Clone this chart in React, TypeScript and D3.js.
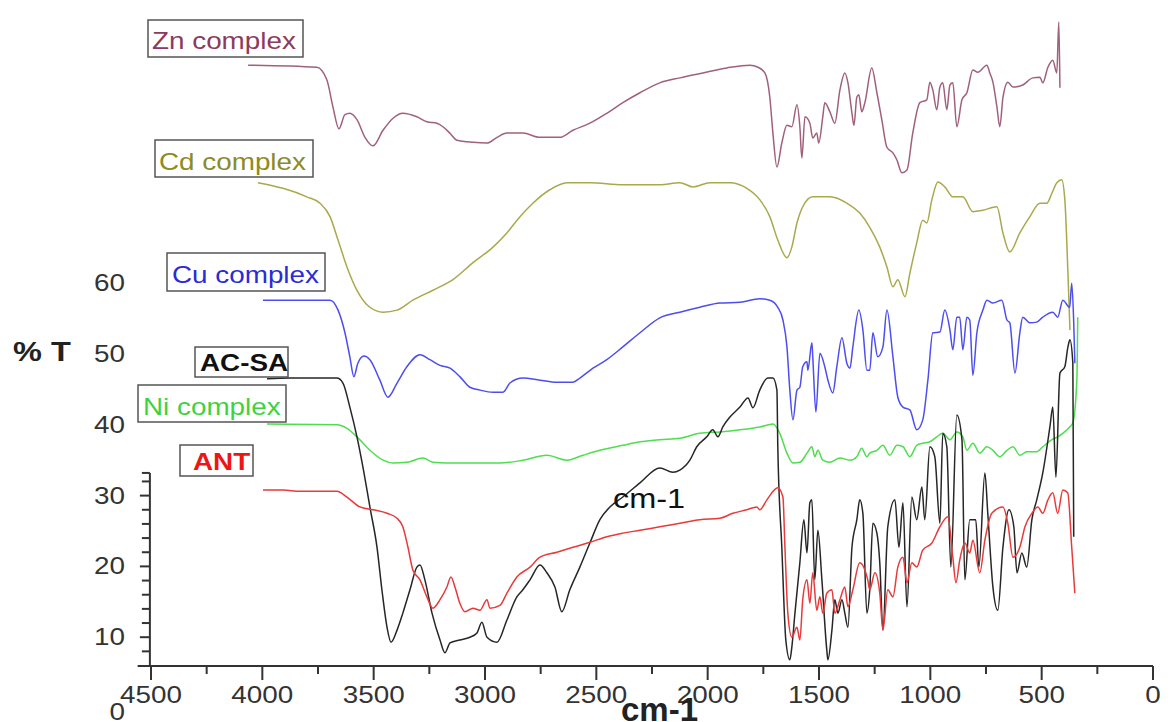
import { useEffect, useRef } from "react";
import * as d3 from "d3";

// [wavenumber cm-1, %T] (curves are stacked with offsets)
const znComplex: [number, number][] = [
  [4064, 90.8], [3755, 90.5], [3710, 88.7], [3683, 84.9], [3656, 81.8], [3629, 83.8], [3607, 84.0], [3575, 83.1],
  [3539, 80.6], [3503, 79.4], [3458, 81.6], [3413, 83.3], [3369, 84.0], [3306, 83.5], [3261, 82.8], [3216, 82.6],
  [3189, 82.1], [3158, 81.2], [3126, 80.2], [3054, 79.9], [2991, 79.8], [2946, 80.6], [2902, 81.2], [2830, 81.2],
  [2753, 80.6], [2664, 80.6], [2605, 81.6], [2529, 82.6], [2453, 84.0], [2381, 85.5], [2304, 86.9], [2215, 88.3],
  [2125, 89.0], [2021, 89.7], [1914, 90.4], [1810, 90.8], [1774, 90.5], [1743, 89.7], [1721, 86.3], [1707, 81.2],
  [1689, 76.4], [1667, 79.8], [1644, 82.3], [1622, 82.1], [1599, 85.2], [1586, 82.1], [1577, 77.7], [1563, 83.5],
  [1541, 82.6], [1528, 80.5], [1510, 81.2], [1501, 79.8], [1483, 83.5], [1474, 85.5], [1451, 84.2], [1429, 82.6],
  [1406, 87.3], [1384, 89.7], [1370, 88.3], [1352, 84.0], [1343, 82.3], [1330, 86.3], [1321, 86.6], [1308, 84.2],
  [1294, 85.5], [1263, 90.4], [1240, 86.9], [1218, 83.1], [1195, 79.2], [1168, 78.4], [1150, 77.4], [1128, 75.6],
  [1105, 76.0], [1079, 81.2], [1047, 85.5], [1016, 85.9], [1002, 88.4], [989, 87.3], [971, 84.5], [957, 87.7],
  [944, 88.3], [926, 84.5], [912, 88.0], [899, 88.3], [881, 82.1], [858, 85.9], [836, 86.9], [809, 90.1],
  [787, 89.8], [746, 90.8], [733, 89.7], [719, 88.4], [701, 84.9], [688, 82.1], [674, 86.2], [652, 88.4],
  [629, 87.7], [585, 88.0], [540, 89.0], [508, 89.1], [495, 88.3], [472, 90.5], [450, 91.5], [432, 89.7],
  [423, 96.9], [418, 87.6],
];

const cdComplex: [number, number][] = [
  [4020, 74.2], [3907, 73.4], [3800, 72.2], [3741, 71.3], [3696, 69.4], [3660, 66.1], [3620, 62.3], [3575, 59.0],
  [3517, 56.6], [3458, 55.9], [3395, 56.2], [3324, 57.6], [3234, 59.0], [3144, 60.5], [3054, 62.9], [2964, 65.1],
  [2902, 67.1], [2843, 69.4], [2785, 71.3], [2709, 73.2], [2632, 74.2], [2529, 74.2], [2381, 73.9], [2215, 73.9],
  [2125, 74.2], [2066, 73.6], [1990, 74.2], [1900, 74.2], [1824, 73.4], [1766, 71.8], [1721, 69.4], [1685, 66.1],
  [1644, 63.6], [1622, 65.1], [1599, 68.5], [1573, 70.8], [1528, 72.2], [1451, 72.2], [1375, 71.3], [1317, 69.9],
  [1272, 67.9], [1227, 65.1], [1195, 62.3], [1168, 59.5], [1146, 60.5], [1114, 58.1], [1092, 61.4], [1061, 65.7],
  [1034, 68.9], [1016, 68.5], [993, 71.8], [966, 74.3], [935, 73.6], [899, 72.2], [854, 72.2], [809, 70.1],
  [764, 70.3], [701, 70.8], [674, 67.1], [643, 64.4], [598, 67.1], [553, 69.4], [508, 71.3], [477, 71.3],
  [454, 72.7], [432, 74.2], [410, 74.6], [396, 71.8], [382, 61.4], [373, 53.4],
];

const cuComplex: [number, number][] = [
  [3997, 57.6], [3696, 57.6], [3660, 56.2], [3629, 53.0], [3607, 49.6], [3589, 46.8], [3571, 48.7], [3544, 49.7],
  [3517, 49.2], [3472, 46.3], [3436, 43.9], [3395, 45.9], [3351, 48.2], [3292, 49.9], [3247, 49.2], [3202, 48.4],
  [3157, 48.0], [3113, 46.8], [3068, 45.3], [3023, 44.9], [2964, 44.6], [2919, 44.6], [2888, 45.9], [2830, 46.6],
  [2753, 46.3], [2677, 46.0], [2605, 46.0], [2574, 46.6], [2515, 48.0], [2453, 49.2], [2381, 51.0], [2304, 53.0],
  [2215, 55.1], [2125, 55.9], [2035, 56.6], [1945, 57.2], [1855, 57.3], [1766, 57.8], [1721, 57.6], [1685, 56.6],
  [1662, 54.8], [1644, 51.0], [1631, 44.9], [1617, 40.7], [1599, 44.9], [1586, 45.3], [1573, 48.2], [1554, 48.9],
  [1550, 47.7], [1532, 51.6], [1528, 49.6], [1514, 41.8], [1496, 50.1], [1474, 48.2], [1460, 46.3], [1438, 44.5],
  [1420, 48.2], [1397, 52.3], [1375, 48.7], [1361, 48.0], [1348, 51.0], [1321, 56.2], [1303, 53.4], [1285, 47.7],
  [1272, 47.7], [1258, 53.0], [1236, 49.6], [1213, 51.0], [1195, 56.2], [1168, 49.6], [1146, 43.9], [1123, 42.5],
  [1092, 42.1], [1061, 39.3], [1034, 40.7], [1011, 46.3], [989, 53.0], [957, 53.1], [935, 56.2], [912, 53.4],
  [899, 50.6], [881, 55.2], [868, 55.2], [854, 50.6], [836, 55.2], [823, 54.8], [809, 47.0], [791, 53.0],
  [764, 56.2], [746, 57.6], [719, 57.2], [679, 57.6], [656, 54.8], [643, 54.4], [620, 47.3], [598, 53.0],
  [585, 55.2], [553, 54.4], [522, 54.5], [495, 55.2], [450, 55.9], [428, 55.2], [405, 57.6], [374, 56.6],
  [365, 60.0], [356, 54.4], [351, 48.7],
];

const acSa: [number, number][] = [
  [3979, 46.5], [3876, 46.6], [3665, 46.6], [3638, 45.9], [3607, 42.5], [3575, 38.3], [3548, 34.0], [3517, 28.4],
  [3485, 22.7], [3463, 16.7], [3440, 11.4], [3422, 9.3], [3395, 11.0], [3369, 13.4], [3337, 16.7], [3306, 19.9],
  [3292, 20.2], [3270, 18.1], [3238, 13.4], [3202, 9.6], [3180, 7.8], [3157, 9.2], [3113, 9.6], [3068, 10.0],
  [3036, 10.6], [3014, 12.1], [2991, 10.0], [2946, 9.3], [2902, 12.4], [2857, 15.7], [2830, 16.7], [2798, 18.1],
  [2753, 20.2], [2722, 19.1], [2686, 17.1], [2655, 13.6], [2619, 16.7], [2574, 19.9], [2529, 23.3], [2484, 26.6],
  [2439, 28.4], [2381, 29.8], [2304, 31.8], [2215, 33.9], [2156, 33.3], [2125, 33.6], [2080, 35.0], [2049, 36.9],
  [2004, 38.3], [1977, 39.3], [1954, 38.3], [1932, 39.7], [1900, 41.1], [1855, 42.5], [1819, 43.8], [1797, 42.4],
  [1766, 44.9], [1730, 46.6], [1707, 46.6], [1689, 44.9], [1685, 36.9], [1667, 22.7], [1649, 9.6], [1631, 6.8],
  [1622, 8.6], [1608, 13.4], [1586, 20.5], [1568, 26.6], [1554, 21.9], [1541, 29.0], [1532, 29.4], [1519, 18.1],
  [1505, 25.1], [1487, 18.1], [1465, 8.2], [1460, 6.8], [1442, 11.0], [1429, 15.3], [1415, 13.4], [1397, 15.3],
  [1384, 13.4], [1370, 11.4], [1352, 22.7], [1330, 26.6], [1317, 29.4], [1303, 27.5], [1285, 13.4], [1272, 16.7],
  [1258, 26.1], [1240, 24.7], [1227, 20.5], [1213, 11.0], [1191, 25.6], [1159, 29.4], [1141, 22.7], [1123, 29.0],
  [1105, 14.3], [1083, 29.8], [1061, 26.6], [1038, 31.2], [1025, 26.6], [1002, 36.9], [980, 35.5], [957, 26.1],
  [944, 38.8], [926, 36.9], [908, 19.9], [881, 41.4], [858, 37.9], [845, 18.1], [823, 26.6], [796, 26.6],
  [782, 19.9], [755, 33.2], [742, 27.5], [719, 17.1], [697, 13.8], [674, 22.7], [647, 28.0], [625, 25.6],
  [611, 19.1], [589, 21.9], [567, 19.9], [544, 26.6], [522, 29.4], [495, 33.2], [463, 39.7], [450, 42.5],
  [436, 32.6], [418, 47.3], [396, 48.2], [382, 51.0], [373, 52.0], [360, 48.7], [356, 24.2],
];

const niComplex: [number, number][] = [
  [3979, 40.1], [3665, 40.0], [3620, 39.5], [3575, 38.3], [3517, 36.4], [3458, 35.0], [3413, 34.6], [3351, 34.7],
  [3279, 35.3], [3234, 34.7], [3171, 34.6], [3054, 34.6], [2933, 34.6], [2830, 35.0], [2722, 35.7], [2632, 35.0],
  [2560, 35.7], [2484, 36.4], [2381, 37.1], [2304, 37.6], [2215, 37.9], [2125, 38.1], [2035, 38.8], [1945, 39.0],
  [1855, 39.3], [1766, 39.7], [1707, 40.1], [1676, 38.8], [1644, 36.0], [1617, 34.6], [1586, 34.7], [1554, 36.0],
  [1532, 36.9], [1519, 35.5], [1505, 36.4], [1483, 35.0], [1451, 34.7], [1406, 35.3], [1361, 35.0], [1330, 35.5],
  [1308, 36.7], [1285, 35.5], [1272, 36.0], [1240, 36.4], [1213, 37.1], [1182, 35.7], [1150, 37.1], [1123, 36.9],
  [1092, 35.5], [1061, 37.1], [1034, 37.4], [1002, 37.6], [971, 38.3], [944, 38.8], [912, 37.9], [881, 39.0],
  [854, 38.3], [836, 36.4], [809, 37.4], [778, 36.0], [746, 36.9], [719, 36.4], [688, 35.5], [656, 36.4],
  [629, 36.9], [598, 35.7], [567, 36.2], [522, 36.2], [495, 36.9], [454, 37.9], [428, 38.3], [405, 38.8],
  [374, 39.7], [360, 40.3], [342, 46.3], [338, 55.2],
];

const ant: [number, number][] = [
  [3997, 30.8], [3907, 30.8], [3831, 30.6], [3665, 30.6], [3620, 29.8], [3562, 28.4], [3503, 28.0], [3440, 27.5],
  [3395, 26.8], [3369, 25.6], [3346, 22.7], [3324, 19.5], [3292, 18.1], [3261, 15.7], [3234, 14.1], [3202, 15.3],
  [3171, 17.1], [3153, 18.5], [3135, 17.1], [3113, 14.8], [3090, 13.6], [3054, 14.1], [3023, 13.8], [2991, 15.3],
  [2978, 14.1], [2933, 14.5], [2902, 16.2], [2857, 18.5], [2798, 19.9], [2753, 21.3], [2677, 22.0], [2605, 22.7],
  [2529, 23.4], [2453, 24.2], [2381, 24.7], [2304, 25.1], [2215, 25.6], [2125, 26.1], [2035, 26.6], [1945, 26.8],
  [1887, 27.5], [1824, 28.0], [1779, 28.4], [1766, 28.0], [1734, 29.4], [1685, 31.1], [1662, 29.8], [1653, 22.7],
  [1640, 13.4], [1622, 10.0], [1599, 11.4], [1586, 9.6], [1573, 15.3], [1554, 18.1], [1541, 14.8], [1528, 19.1],
  [1510, 13.8], [1496, 15.7], [1483, 13.4], [1465, 16.2], [1442, 16.7], [1429, 13.4], [1406, 15.3], [1384, 17.1],
  [1370, 14.3], [1348, 16.7], [1317, 20.5], [1294, 19.5], [1281, 18.1], [1272, 16.7], [1249, 19.1], [1227, 16.2],
  [1213, 11.0], [1191, 16.7], [1168, 15.7], [1146, 19.9], [1123, 21.3], [1105, 17.7], [1083, 20.5], [1061, 19.9],
  [1034, 22.3], [993, 23.3], [957, 25.6], [921, 27.0], [899, 21.3], [885, 17.7], [868, 20.9], [845, 23.3],
  [823, 21.9], [809, 23.7], [778, 19.1], [755, 23.7], [724, 27.5], [674, 28.4], [652, 26.1], [629, 21.3],
  [598, 22.7], [575, 25.6], [544, 27.5], [517, 28.4], [495, 27.5], [472, 29.4], [450, 30.4], [428, 27.5],
  [405, 30.8], [383, 30.4], [365, 22.7], [351, 16.2],
];

const xTickValues = [4500, 4000, 3500, 3000, 2500, 2000, 1500, 1000, 500, 0];
const xMinorTicks = [4250, 3750, 3250, 2750, 2250, 1750, 1250, 750, 250];
const yTickLabels = [0, 10, 20, 30, 40, 50, 60];
const yAxisTicks = [8, 10, 12, 14, 16, 18, 20, 22, 24, 26, 28, 30, 32];

const SERIES = [
  { name: "Zn complex", data: znComplex, stroke: "#a0607c", text: "#8c3a5e", bold: false },
  { name: "Cd complex", data: cdComplex, stroke: "#a9a94c", text: "#8c8c22", bold: false },
  { name: "Cu complex", data: cuComplex, stroke: "#4d4df0", text: "#2b2bd6", bold: false },
  { name: "Ni complex", data: niComplex, stroke: "#4ede4e", text: "#3fd23f", bold: false },
  { name: "AC-SA", data: acSa, stroke: "#262626", text: "#111111", bold: true },
  { name: "ANT", data: ant, stroke: "#e83a3a", text: "#ee1515", bold: true },
];

const App = () => {
  const ref = useRef<SVGSVGElement>(null);

  useEffect(() => {
    const FONT = "'Liberation Sans', Arial, Helvetica, sans-serif";
    const SX = 1.16; // the figure is stretched horizontally
    const AXIS_COLOR = "#333";

    const svg = d3.select(ref.current);
    svg.selectAll("*").remove();

    const x = d3.scaleLinear().domain([4500, 0]).range([151, 1153]);
    const y = d3.scaleLinear().domain([0, 100]).range([708, 0]);

    const text = (tx: number, ty: number, str: string, size: number, opts: any = {}) =>
      svg
        .append("text")
        .attr("transform", `translate(${tx},${ty}) scale(${opts.sx ?? SX},1)`)
        .attr("font-family", FONT)
        .attr("font-size", size)
        .attr("font-weight", opts.bold ? "bold" : "normal")
        .attr("text-anchor", opts.anchor || "start")
        .attr("fill", opts.fill || "#222")
        .text(str);

    // spectra
    const line = d3
      .line<[number, number]>()
      .x((d) => x(d[0]))
      .y((d) => y(d[1]))
      .curve(d3.curveMonotoneX);

    SERIES.forEach((s) => {
      svg
        .append("path")
        .datum(s.data)
        .attr("d", line)
        .attr("fill", "none")
        .attr("stroke", s.stroke)
        .attr("stroke-width", 1.5)
        .attr("stroke-linejoin", "round");
    });

    // x axis
    const axisY = y(5.93);
    svg
      .append("line")
      .attr("x1", x(4560))
      .attr("x2", x(0))
      .attr("y1", axisY)
      .attr("y2", axisY)
      .attr("stroke", AXIS_COLOR)
      .attr("stroke-width", 2);
    xTickValues.forEach((v) => {
      svg
        .append("line")
        .attr("x1", x(v))
        .attr("x2", x(v))
        .attr("y1", axisY)
        .attr("y2", axisY + 14)
        .attr("stroke", AXIS_COLOR)
        .attr("stroke-width", 2);
      text(x(v), axisY + 37, String(v), 24, { anchor: "middle", fill: "#333" });
    });
    xMinorTicks.forEach((v) => {
      svg
        .append("line")
        .attr("x1", x(v))
        .attr("x2", x(v))
        .attr("y1", axisY)
        .attr("y2", axisY + 8)
        .attr("stroke", AXIS_COLOR)
        .attr("stroke-width", 2);
    });

    // y axis (short, only the lower part)
    const axisX = x(4505);
    svg
      .append("line")
      .attr("x1", axisX)
      .attr("x2", axisX)
      .attr("y1", y(33.2))
      .attr("y2", axisY)
      .attr("stroke", AXIS_COLOR)
      .attr("stroke-width", 2);
    [...yAxisTicks, 33.2].forEach((v) => {
      svg
        .append("line")
        .attr("x1", axisX)
        .attr("x2", axisX - (v % 10 === 0 ? 10 : 8))
        .attr("y1", y(v))
        .attr("y2", y(v))
        .attr("stroke", AXIS_COLOR)
        .attr("stroke-width", 2);
    });
    yTickLabels.forEach((v) => {
      text(125, y(v) + (v === 0 ? 12 : 8), String(v), 24, { anchor: "end", fill: "#333" });
    });

    // axis titles
    text(13, 361, "% T", 28, { bold: true, fill: "#222" });
    text(621, 721, "cm-1", 33, { bold: true, fill: "#222", sx: 1 });
    text(613, 508, "cm-1", 28, { fill: "#111" });

    // boxed labels
    const boxes = [
      { box: [148, 20, 303, 57], tx: 152, ty: 49 },
      { box: [155, 140, 313, 177], tx: 159, ty: 170 },
      { box: [167, 253, 325, 291], tx: 172, ty: 283 },
      { box: [138, 385, 286, 422], tx: 143, ty: 415 },
      { box: [195, 347, 288, 377], tx: 200, ty: 371 },
      { box: [180, 445, 253, 476], tx: 193, ty: 470 },
    ];
    SERIES.forEach((s, i) => {
      const b = boxes[i];
      svg
        .append("rect")
        .attr("x", b.box[0])
        .attr("y", b.box[1])
        .attr("width", b.box[2] - b.box[0])
        .attr("height", b.box[3] - b.box[1])
        .attr("fill", "none")
        .attr("stroke", "#555")
        .attr("stroke-width", 1.5);
      text(b.tx, b.ty, s.name, 24, { bold: s.bold, fill: s.text });
    });
  }, []);

  return (
    <svg
      ref={ref}
      width={1172}
      height={722}
      style={{ position: "absolute", left: 0, top: 0, background: "#fff" }}
    />
  );
};

export default App;
